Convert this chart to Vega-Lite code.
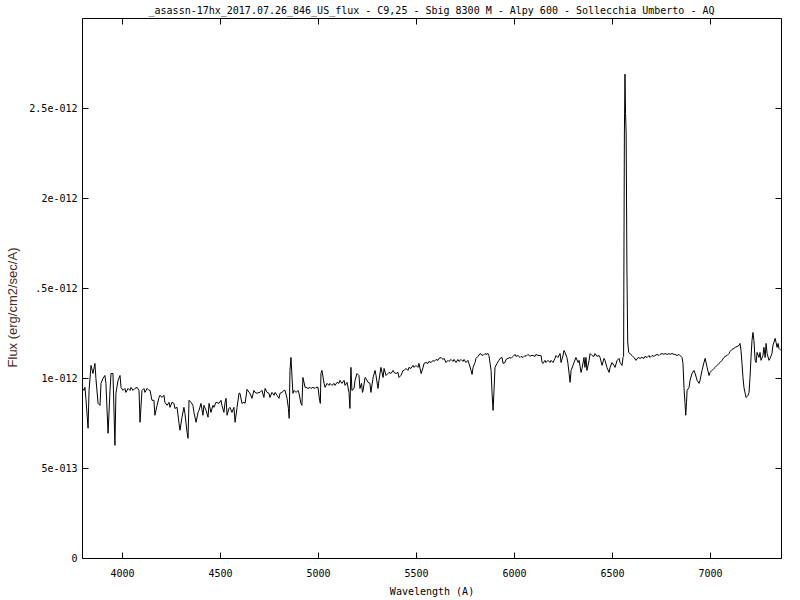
{
"$schema":"https://vega.github.io/schema/vega-lite/v6.json",
"width":699,"height":540,
"autosize":{"type":"none"},
"padding":{"left":82,"top":18,"right":19,"bottom":42},
"background":"white",
"title":{"text":"_asassn-17hx_2017.07.26_846_US_flux - C9,25 - Sbig 8300 M - Alpy 600 - Sollecchia Umberto - AQ","font":"DejaVu Sans Mono","fontSize":10,"fontWeight":"normal","color":"black","anchor":"middle","offset":2},
"config":{"view":{"stroke":"black","strokeWidth":1},
"axis":{"grid":false,"domain":false,"tickColor":"black","tickSize":-6,"tickWidth":1,"labelColor":"black","labelFont":"DejaVu Sans Mono","labelFontSize":10,"titleFont":"DejaVu Sans Mono","titleFontSize":10,"titleFontWeight":"normal","titleColor":"black"}},
"data":{"values":[
{"wavelength":3796,"flux":0.948e-12},{"wavelength":3806,"flux":0.931e-12},{"wavelength":3811,"flux":0.948e-12},{"wavelength":3816,"flux":0.887e-12},{"wavelength":3827,"flux":0.721e-12},{"wavelength":3832,"flux":0.931e-12},{"wavelength":3842,"flux":1.070e-12},{"wavelength":3852,"flux":1.025e-12},{"wavelength":3862,"flux":1.081e-12},{"wavelength":3867,"flux":0.998e-12},{"wavelength":3878,"flux":0.859e-12},{"wavelength":3888,"flux":0.848e-12},{"wavelength":3893,"flux":0.970e-12},{"wavelength":3903,"flux":0.998e-12},{"wavelength":3913,"flux":1.014e-12},{"wavelength":3918,"flux":0.970e-12},{"wavelength":3929,"flux":0.693e-12},{"wavelength":3939,"flux":0.931e-12},{"wavelength":3944,"flux":1.025e-12},{"wavelength":3954,"flux":1.025e-12},{"wavelength":3964,"flux":0.626e-12},{"wavelength":3969,"flux":0.915e-12},{"wavelength":3980,"flux":0.987e-12},{"wavelength":3990,"flux":1.014e-12},{"wavelength":3995,"flux":0.948e-12},{"wavelength":4005,"flux":0.931e-12},{"wavelength":4015,"flux":0.942e-12},{"wavelength":4020,"flux":0.920e-12},{"wavelength":4031,"flux":0.942e-12},{"wavelength":4041,"flux":0.931e-12},{"wavelength":4046,"flux":0.948e-12},{"wavelength":4056,"flux":0.931e-12},{"wavelength":4066,"flux":0.942e-12},{"wavelength":4077,"flux":0.948e-12},{"wavelength":4087,"flux":0.931e-12},{"wavelength":4092,"flux":0.754e-12},{"wavelength":4102,"flux":0.931e-12},{"wavelength":4112,"flux":0.942e-12},{"wavelength":4117,"flux":0.920e-12},{"wavelength":4128,"flux":0.942e-12},{"wavelength":4138,"flux":0.931e-12},{"wavelength":4143,"flux":0.931e-12},{"wavelength":4153,"flux":0.876e-12},{"wavelength":4163,"flux":0.876e-12},{"wavelength":4168,"flux":0.793e-12},{"wavelength":4179,"flux":0.848e-12},{"wavelength":4189,"flux":0.892e-12},{"wavelength":4194,"flux":0.904e-12},{"wavelength":4204,"flux":0.892e-12},{"wavelength":4214,"flux":0.904e-12},{"wavelength":4219,"flux":0.865e-12},{"wavelength":4230,"flux":0.848e-12},{"wavelength":4240,"flux":0.865e-12},{"wavelength":4245,"flux":0.837e-12},{"wavelength":4255,"flux":0.865e-12},{"wavelength":4265,"flux":0.859e-12},{"wavelength":4270,"flux":0.831e-12},{"wavelength":4281,"flux":0.837e-12},{"wavelength":4291,"flux":0.748e-12},{"wavelength":4296,"flux":0.710e-12},{"wavelength":4306,"flux":0.782e-12},{"wavelength":4316,"flux":0.837e-12},{"wavelength":4321,"flux":0.804e-12},{"wavelength":4332,"flux":0.698e-12},{"wavelength":4337,"flux":0.665e-12},{"wavelength":4342,"flux":0.876e-12},{"wavelength":4352,"flux":0.865e-12},{"wavelength":4362,"flux":0.848e-12},{"wavelength":4367,"flux":0.809e-12},{"wavelength":4378,"flux":0.754e-12},{"wavelength":4388,"flux":0.809e-12},{"wavelength":4393,"flux":0.820e-12},{"wavelength":4403,"flux":0.859e-12},{"wavelength":4413,"flux":0.793e-12},{"wavelength":4418,"flux":0.848e-12},{"wavelength":4429,"flux":0.820e-12},{"wavelength":4439,"flux":0.782e-12},{"wavelength":4444,"flux":0.859e-12},{"wavelength":4454,"flux":0.809e-12},{"wavelength":4464,"flux":0.848e-12},{"wavelength":4469,"flux":0.837e-12},{"wavelength":4480,"flux":0.865e-12},{"wavelength":4495,"flux":0.859e-12},{"wavelength":4505,"flux":0.876e-12},
{"wavelength":4510,"flux":0.848e-12},{"wavelength":4520,"flux":0.809e-12},{"wavelength":4526,"flux":0.865e-12},{"wavelength":4531,"flux":0.887e-12},{"wavelength":4536,"flux":0.793e-12},{"wavelength":4546,"flux":0.831e-12},{"wavelength":4551,"flux":0.837e-12},{"wavelength":4561,"flux":0.809e-12},{"wavelength":4571,"flux":0.837e-12},{"wavelength":4577,"flux":0.754e-12},{"wavelength":4587,"flux":0.837e-12},{"wavelength":4597,"flux":0.915e-12},{"wavelength":4602,"flux":0.915e-12},{"wavelength":4612,"flux":0.859e-12},{"wavelength":4622,"flux":0.865e-12},{"wavelength":4628,"flux":0.859e-12},{"wavelength":4638,"flux":0.937e-12},{"wavelength":4648,"flux":0.920e-12},{"wavelength":4653,"flux":0.915e-12},{"wavelength":4663,"flux":0.887e-12},{"wavelength":4673,"flux":0.931e-12},{"wavelength":4679,"flux":0.920e-12},{"wavelength":4689,"flux":0.915e-12},{"wavelength":4699,"flux":0.920e-12},{"wavelength":4704,"flux":0.920e-12},{"wavelength":4714,"flux":0.931e-12},{"wavelength":4724,"flux":0.892e-12},{"wavelength":4730,"flux":0.942e-12},{"wavelength":4740,"flux":0.920e-12},{"wavelength":4750,"flux":0.915e-12},{"wavelength":4755,"flux":0.892e-12},{"wavelength":4765,"flux":0.920e-12},{"wavelength":4776,"flux":0.904e-12},{"wavelength":4781,"flux":0.920e-12},{"wavelength":4791,"flux":0.904e-12},{"wavelength":4801,"flux":0.887e-12},{"wavelength":4806,"flux":0.915e-12},{"wavelength":4816,"flux":0.920e-12},{"wavelength":4827,"flux":0.931e-12},{"wavelength":4832,"flux":0.931e-12},{"wavelength":4842,"flux":0.887e-12},{"wavelength":4849,"flux":0.831e-12},{"wavelength":4853,"flux":0.776e-12},{"wavelength":4857,"flux":1.042e-12},{"wavelength":4862,"flux":1.114e-12},{"wavelength":4872,"flux":0.915e-12},{"wavelength":4878,"flux":0.931e-12},{"wavelength":4888,"flux":0.920e-12},{"wavelength":4898,"flux":0.931e-12},{"wavelength":4903,"flux":0.915e-12},{"wavelength":4913,"flux":0.859e-12},{"wavelength":4918,"flux":0.848e-12},{"wavelength":4923,"flux":1.003e-12},{"wavelength":4934,"flux":0.948e-12},{"wavelength":4939,"flux":0.948e-12},{"wavelength":4949,"flux":0.942e-12},{"wavelength":4959,"flux":0.948e-12},{"wavelength":4964,"flux":0.942e-12},{"wavelength":4974,"flux":0.948e-12},{"wavelength":4985,"flux":0.942e-12},{"wavelength":4990,"flux":0.948e-12},{"wavelength":5000,"flux":0.948e-12},{"wavelength":5008,"flux":0.876e-12},{"wavelength":5012,"flux":0.859e-12},{"wavelength":5015,"flux":1.025e-12},{"wavelength":5020,"flux":1.042e-12},{"wavelength":5031,"flux":0.970e-12},{"wavelength":5036,"flux":0.948e-12},{"wavelength":5046,"flux":0.970e-12},{"wavelength":5056,"flux":0.959e-12},{"wavelength":5061,"flux":0.970e-12},{"wavelength":5071,"flux":0.959e-12},{"wavelength":5082,"flux":0.970e-12},{"wavelength":5087,"flux":0.959e-12},{"wavelength":5097,"flux":0.976e-12},{"wavelength":5107,"flux":0.970e-12},{"wavelength":5112,"flux":0.987e-12},{"wavelength":5122,"flux":0.970e-12},{"wavelength":5133,"flux":0.987e-12},{"wavelength":5138,"flux":0.959e-12},{"wavelength":5148,"flux":0.976e-12},{"wavelength":5158,"flux":0.920e-12},{"wavelength":5163,"flux":0.831e-12},{"wavelength":5168,"flux":1.059e-12},{"wavelength":5173,"flux":0.931e-12},{"wavelength":5184,"flux":0.942e-12},{"wavelength":5189,"flux":0.987e-12},{"wavelength":5199,"flux":1.025e-12},{"wavelength":5209,"flux":1.014e-12},{"wavelength":5214,"flux":0.942e-12},{"wavelength":5222,"flux":0.970e-12},{"wavelength":5227,"flux":0.920e-12},
{"wavelength":5230,"flux":0.931e-12},{"wavelength":5240,"flux":1.003e-12},{"wavelength":5245,"flux":0.998e-12},{"wavelength":5255,"flux":0.976e-12},{"wavelength":5265,"flux":0.970e-12},{"wavelength":5270,"flux":0.920e-12},{"wavelength":5281,"flux":1.003e-12},{"wavelength":5291,"flux":1.042e-12},{"wavelength":5296,"flux":1.014e-12},{"wavelength":5306,"flux":0.942e-12},{"wavelength":5311,"flux":0.987e-12},{"wavelength":5321,"flux":1.059e-12},{"wavelength":5332,"flux":1.003e-12},{"wavelength":5337,"flux":1.053e-12},{"wavelength":5347,"flux":1.014e-12},{"wavelength":5357,"flux":1.025e-12},{"wavelength":5362,"flux":1.031e-12},{"wavelength":5372,"flux":1.025e-12},{"wavelength":5383,"flux":1.042e-12},{"wavelength":5388,"flux":1.031e-12},{"wavelength":5398,"flux":1.025e-12},{"wavelength":5408,"flux":1.031e-12},{"wavelength":5413,"flux":1.003e-12},{"wavelength":5423,"flux":1.014e-12},{"wavelength":5434,"flux":1.042e-12},{"wavelength":5439,"flux":1.042e-12},{"wavelength":5449,"flux":1.053e-12},{"wavelength":5459,"flux":1.042e-12},{"wavelength":5464,"flux":1.059e-12},{"wavelength":5474,"flux":1.053e-12},{"wavelength":5485,"flux":1.070e-12},{"wavelength":5490,"flux":1.059e-12},{"wavelength":5500,"flux":1.070e-12},{"wavelength":5510,"flux":1.059e-12},{"wavelength":5515,"flux":1.081e-12},{"wavelength":5526,"flux":1.025e-12},{"wavelength":5536,"flux":1.059e-12},{"wavelength":5541,"flux":1.081e-12},{"wavelength":5551,"flux":1.086e-12},{"wavelength":5561,"flux":1.081e-12},{"wavelength":5566,"flux":1.092e-12},{"wavelength":5577,"flux":1.086e-12},{"wavelength":5587,"flux":1.098e-12},{"wavelength":5592,"flux":1.092e-12},{"wavelength":5602,"flux":1.103e-12},{"wavelength":5612,"flux":1.098e-12},{"wavelength":5617,"flux":1.109e-12},{"wavelength":5628,"flux":1.114e-12},{"wavelength":5638,"flux":1.103e-12},{"wavelength":5643,"flux":1.109e-12},{"wavelength":5653,"flux":1.086e-12},{"wavelength":5663,"flux":1.098e-12},{"wavelength":5668,"flux":1.092e-12},{"wavelength":5679,"flux":1.103e-12},{"wavelength":5689,"flux":1.092e-12},{"wavelength":5694,"flux":1.103e-12},{"wavelength":5704,"flux":1.086e-12},{"wavelength":5714,"flux":1.103e-12},{"wavelength":5719,"flux":1.092e-12},{"wavelength":5730,"flux":1.103e-12},{"wavelength":5740,"flux":1.092e-12},{"wavelength":5745,"flux":1.103e-12},{"wavelength":5755,"flux":1.086e-12},{"wavelength":5765,"flux":1.098e-12},{"wavelength":5770,"flux":1.081e-12},{"wavelength":5781,"flux":1.042e-12},{"wavelength":5786,"flux":1.020e-12},{"wavelength":5791,"flux":1.059e-12},{"wavelength":5801,"flux":1.086e-12},{"wavelength":5806,"flux":1.109e-12},{"wavelength":5816,"flux":1.120e-12},{"wavelength":5827,"flux":1.136e-12},{"wavelength":5832,"flux":1.131e-12},{"wavelength":5842,"flux":1.125e-12},{"wavelength":5852,"flux":1.136e-12},{"wavelength":5857,"flux":1.131e-12},{"wavelength":5867,"flux":1.136e-12},{"wavelength":5872,"flux":1.125e-12},{"wavelength":5883,"flux":1.042e-12},{"wavelength":5888,"flux":0.915e-12},{"wavelength":5893,"flux":0.820e-12},{"wavelength":5898,"flux":0.931e-12},{"wavelength":5903,"flux":1.059e-12},{"wavelength":5913,"flux":1.081e-12},{"wavelength":5923,"flux":1.098e-12},{"wavelength":5929,"flux":1.109e-12},{"wavelength":5939,"flux":1.114e-12},
{"wavelength":5944,"flux":1.081e-12},{"wavelength":5954,"flux":1.086e-12},{"wavelength":5959,"flux":1.103e-12},{"wavelength":5969,"flux":1.109e-12},{"wavelength":5980,"flux":1.114e-12},{"wavelength":5985,"flux":1.109e-12},{"wavelength":5995,"flux":1.120e-12},{"wavelength":6005,"flux":1.131e-12},{"wavelength":6010,"flux":1.120e-12},{"wavelength":6020,"flux":1.125e-12},{"wavelength":6031,"flux":1.114e-12},{"wavelength":6036,"flux":1.120e-12},{"wavelength":6046,"flux":1.114e-12},{"wavelength":6056,"flux":1.125e-12},{"wavelength":6061,"flux":1.120e-12},{"wavelength":6071,"flux":1.131e-12},{"wavelength":6082,"flux":1.120e-12},{"wavelength":6087,"flux":1.125e-12},{"wavelength":6097,"flux":1.125e-12},{"wavelength":6107,"flux":1.120e-12},{"wavelength":6112,"flux":1.131e-12},{"wavelength":6122,"flux":1.125e-12},{"wavelength":6133,"flux":1.125e-12},{"wavelength":6138,"flux":1.125e-12},{"wavelength":6143,"flux":1.086e-12},{"wavelength":6148,"flux":1.081e-12},{"wavelength":6158,"flux":1.098e-12},{"wavelength":6163,"flux":1.086e-12},{"wavelength":6173,"flux":1.098e-12},{"wavelength":6184,"flux":1.086e-12},{"wavelength":6189,"flux":1.098e-12},{"wavelength":6199,"flux":1.086e-12},{"wavelength":6209,"flux":1.109e-12},{"wavelength":6214,"flux":1.125e-12},{"wavelength":6224,"flux":1.114e-12},{"wavelength":6235,"flux":1.136e-12},{"wavelength":6240,"flux":1.086e-12},{"wavelength":6250,"flux":1.125e-12},{"wavelength":6255,"flux":1.153e-12},{"wavelength":6260,"flux":1.142e-12},{"wavelength":6270,"flux":1.114e-12},{"wavelength":6275,"flux":1.081e-12},{"wavelength":6281,"flux":1.025e-12},{"wavelength":6286,"flux":0.976e-12},{"wavelength":6291,"flux":1.042e-12},{"wavelength":6301,"flux":1.070e-12},{"wavelength":6306,"flux":1.086e-12},{"wavelength":6316,"flux":1.114e-12},{"wavelength":6327,"flux":1.086e-12},{"wavelength":6332,"flux":1.098e-12},{"wavelength":6342,"flux":1.031e-12},{"wavelength":6347,"flux":1.053e-12},{"wavelength":6357,"flux":1.114e-12},{"wavelength":6362,"flux":1.059e-12},{"wavelength":6367,"flux":1.114e-12},{"wavelength":6372,"flux":1.042e-12},{"wavelength":6383,"flux":1.098e-12},{"wavelength":6388,"flux":1.136e-12},{"wavelength":6398,"flux":1.125e-12},{"wavelength":6408,"flux":1.120e-12},{"wavelength":6413,"flux":1.136e-12},{"wavelength":6423,"flux":1.120e-12},{"wavelength":6434,"flux":1.125e-12},{"wavelength":6439,"flux":1.114e-12},{"wavelength":6449,"flux":1.070e-12},{"wavelength":6459,"flux":1.109e-12},{"wavelength":6464,"flux":1.098e-12},{"wavelength":6474,"flux":1.059e-12},{"wavelength":6485,"flux":1.031e-12},{"wavelength":6490,"flux":1.059e-12},{"wavelength":6500,"flux":1.086e-12},{"wavelength":6510,"flux":1.070e-12},{"wavelength":6515,"flux":1.059e-12},{"wavelength":6526,"flux":1.098e-12},{"wavelength":6536,"flux":1.109e-12},{"wavelength":6541,"flux":1.086e-12},{"wavelength":6551,"flux":1.070e-12},{"wavelength":6556,"flux":1.114e-12},
{"wavelength":6559,"flux":1.120e-12},{"wavelength":6563,"flux":2.350e-12},{"wavelength":6566,"flux":2.688e-12},{"wavelength":6569,"flux":2.470e-12},{"wavelength":6572,"flux":2.360e-12},{"wavelength":6576,"flux":1.600e-12},{"wavelength":6580,"flux":1.200e-12},{"wavelength":6585,"flux":1.142e-12},
{"wavelength":6602,"flux":1.125e-12},{"wavelength":6612,"flux":1.114e-12},{"wavelength":6622,"flux":1.098e-12},{"wavelength":6633,"flux":1.114e-12},{"wavelength":6643,"flux":1.109e-12},{"wavelength":6653,"flux":1.114e-12},{"wavelength":6663,"flux":1.109e-12},{"wavelength":6668,"flux":1.120e-12},{"wavelength":6679,"flux":1.114e-12},{"wavelength":6689,"flux":1.125e-12},{"wavelength":6694,"flux":1.114e-12},{"wavelength":6704,"flux":1.125e-12},{"wavelength":6714,"flux":1.120e-12},{"wavelength":6719,"flux":1.125e-12},{"wavelength":6730,"flux":1.131e-12},{"wavelength":6740,"flux":1.125e-12},{"wavelength":6745,"flux":1.131e-12},{"wavelength":6755,"flux":1.136e-12},{"wavelength":6765,"flux":1.131e-12},{"wavelength":6770,"flux":1.136e-12},{"wavelength":6781,"flux":1.131e-12},{"wavelength":6791,"flux":1.136e-12},{"wavelength":6796,"flux":1.131e-12},{"wavelength":6806,"flux":1.136e-12},{"wavelength":6816,"flux":1.131e-12},{"wavelength":6821,"flux":1.131e-12},{"wavelength":6832,"flux":1.125e-12},{"wavelength":6842,"flux":1.131e-12},{"wavelength":6847,"flux":1.125e-12},{"wavelength":6857,"flux":1.114e-12},{"wavelength":6862,"flux":1.081e-12},{"wavelength":6867,"flux":0.948e-12},{"wavelength":6872,"flux":0.865e-12},{"wavelength":6876,"flux":0.793e-12},{"wavelength":6880,"flux":0.865e-12},{"wavelength":6883,"flux":0.931e-12},{"wavelength":6893,"flux":0.948e-12},{"wavelength":6898,"flux":0.987e-12},{"wavelength":6908,"flux":1.025e-12},{"wavelength":6918,"flux":1.042e-12},{"wavelength":6924,"flux":1.025e-12},{"wavelength":6934,"flux":0.987e-12},{"wavelength":6944,"flux":0.970e-12},{"wavelength":6949,"flux":0.987e-12},{"wavelength":6959,"flux":1.042e-12},{"wavelength":6969,"flux":1.086e-12},{"wavelength":6975,"flux":1.109e-12},{"wavelength":6985,"flux":1.059e-12},{"wavelength":6995,"flux":1.014e-12},{"wavelength":7000,"flux":1.031e-12},{"wavelength":7010,"flux":1.042e-12},{"wavelength":7020,"flux":1.053e-12},{"wavelength":7026,"flux":1.059e-12},{"wavelength":7036,"flux":1.070e-12},{"wavelength":7046,"flux":1.081e-12},{"wavelength":7051,"flux":1.086e-12},{"wavelength":7061,"flux":1.098e-12},{"wavelength":7071,"flux":1.114e-12},{"wavelength":7077,"flux":1.120e-12},{"wavelength":7087,"flux":1.125e-12},{"wavelength":7097,"flux":1.136e-12},{"wavelength":7102,"flux":1.147e-12},{"wavelength":7112,"flux":1.159e-12},{"wavelength":7122,"flux":1.164e-12},{"wavelength":7128,"flux":1.170e-12},{"wavelength":7138,"flux":1.175e-12},{"wavelength":7148,"flux":1.181e-12},{"wavelength":7153,"flux":1.192e-12},{"wavelength":7158,"flux":1.153e-12},{"wavelength":7163,"flux":1.081e-12},{"wavelength":7168,"flux":1.003e-12},{"wavelength":7173,"flux":0.948e-12},{"wavelength":7179,"flux":0.915e-12},{"wavelength":7184,"flux":0.892e-12},{"wavelength":7194,"flux":0.904e-12},{"wavelength":7199,"flux":0.920e-12},{"wavelength":7204,"flux":1.003e-12},{"wavelength":7209,"flux":1.114e-12},{"wavelength":7214,"flux":1.208e-12},{"wavelength":7219,"flux":1.253e-12},{"wavelength":7224,"flux":1.208e-12},{"wavelength":7230,"flux":1.098e-12},{"wavelength":7235,"flux":1.086e-12},{"wavelength":7240,"flux":1.142e-12},{"wavelength":7250,"flux":1.114e-12},{"wavelength":7255,"flux":1.142e-12},{"wavelength":7260,"flux":1.098e-12},{"wavelength":7270,"flux":1.125e-12},{"wavelength":7275,"flux":1.170e-12},{"wavelength":7281,"flux":1.114e-12},{"wavelength":7286,"flux":1.192e-12},{"wavelength":7291,"flux":1.136e-12},{"wavelength":7301,"flux":1.098e-12},{"wavelength":7306,"flux":1.109e-12},{"wavelength":7316,"flux":1.136e-12},{"wavelength":7321,"flux":1.181e-12},{"wavelength":7332,"flux":1.220e-12},{"wavelength":7337,"flux":1.197e-12},{"wavelength":7342,"flux":1.170e-12},{"wavelength":7347,"flux":1.192e-12},{"wavelength":7352,"flux":1.164e-12},{"wavelength":7362,"flux":1.153e-12}
]},
"layer":[
{"mark":{"type":"line","color":"black","strokeWidth":1,"clip":true},
"encoding":{
"x":{"field":"wavelength","type":"quantitative","scale":{"domain":[3796,7362],"nice":false,"zero":false},
"axis":{"orient":"bottom","values":[4000,4500,5000,5500,6000,6500,7000],"format":"d","labelPadding":16,"labelAngle":0,"title":"Wavelength (A)","titleY":28,"titleBaseline":"top"}},
"y":{"field":"flux","type":"quantitative","scale":{"domain":[0,3e-12],"nice":false,"zero":true},
"axis":{"orient":"left","values":[0,5e-13,1e-12,1.5e-12,2e-12,2.5e-12],"labelPadding":11,"labelBaseline":"middle",
"labelExpr":"round(datum.value*1e13)==0?'0':round(datum.value*1e13)==5?'5e-013':round(datum.value*1e13)==10?'1e-012':round(datum.value*1e13)==15?'.5e-012':round(datum.value*1e13)==20?'2e-012':'2.5e-012'",
"title":"Flux (erg/cm2/sec/A)","titleFont":"Liberation Sans","titleFontSize":13,"titleColor":"#4d2b1f","titleX":-70,"titleY":289,"titleAlign":"center","titleBaseline":"middle","titleAngle":270}}}},
{"mark":{"type":"line","opacity":0},
"encoding":{
"x":{"field":"wavelength","type":"quantitative","scale":{"domain":[3796,7362],"nice":false,"zero":false},
"axis":{"orient":"top","values":[4000,4500,5000,5500,6000,6500,7000],"labels":false,"title":null}},
"y":{"field":"flux","type":"quantitative","scale":{"domain":[0,3e-12],"nice":false,"zero":true},
"axis":{"orient":"right","values":[0,5e-13,1e-12,1.5e-12,2e-12,2.5e-12],"labels":false,"title":null}}}}
],
"resolve":{"axis":{"x":"independent","y":"independent"}}
}
